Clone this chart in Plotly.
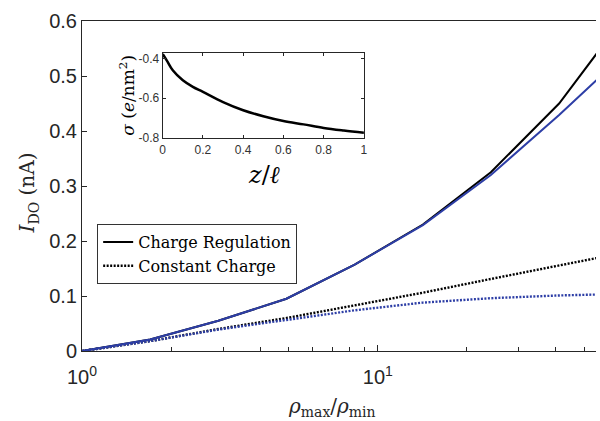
import numpy as np
import plotly.graph_objects as go

# ---- main panel data ----
rho_ratio = [1, 1.7, 2.89, 4.91, 8.35, 14.2, 24.1, 41.0, 69.8]
cr_full = [0, 0.021, 0.055, 0.095, 0.157, 0.230, 0.325, 0.450, 0.615]
cr_approx = [0, 0.021, 0.055, 0.095, 0.157, 0.229, 0.320, 0.429, 0.545]
cc_full = [0, 0.018, 0.040, 0.060, 0.083, 0.106, 0.131, 0.155, 0.180]
cc_approx = [0, 0.018, 0.039, 0.057, 0.074, 0.088, 0.096, 0.101, 0.104]

# ---- inset data ----
z_over_l = [0, 0.02, 0.05, 0.1, 0.15, 0.2, 0.3, 0.4, 0.5, 0.6, 0.7, 0.8, 0.9, 1.0]
sigma = [-0.378, -0.41, -0.46, -0.51, -0.543, -0.568, -0.619, -0.66, -0.69,
         -0.714, -0.731, -0.749, -0.762, -0.773]

y_ticks = [0, 0.1, 0.2, 0.3, 0.4, 0.5, 0.6]
y_ticktext = ["0", "0.1", "0.2", "0.3", "0.4", "0.5", "0.6"]
x_major = [1, 10]
x_major_text = ["10<sup>0</sup>", "10<sup>1</sup>"]
x_minor = [2, 3, 4, 5, 6, 7, 8, 9, 20, 30, 40, 50]
inset_xticks = [0, 0.2, 0.4, 0.6, 0.8, 1]
inset_xtext = ["0", "0.2", "0.4", "0.6", "0.8", "1"]
inset_yticks = [-0.8, -0.6, -0.4]
inset_ytext = ["-0.8", "-0.6", "-0.4"]

BLUE = "#2d3ea6"
AX = "#262626"
SERIF = "DejaVu Serif"
DOTS = "2px,1.5px"

fig = go.Figure()
fig.add_trace(go.Scatter(x=rho_ratio, y=cr_full, mode="lines", name="Charge Regulation",
                         line=dict(color="black", width=2.0)))
fig.add_trace(go.Scatter(x=rho_ratio, y=cc_full, mode="lines", name="Constant Charge",
                         line=dict(color="black", width=2.4, dash=DOTS)))
fig.add_trace(go.Scatter(x=rho_ratio, y=cr_approx, mode="lines", showlegend=False,
                         line=dict(color=BLUE, width=2.0)))
fig.add_trace(go.Scatter(x=rho_ratio, y=cc_approx, mode="lines", showlegend=False,
                         line=dict(color=BLUE, width=2.4, dash=DOTS)))
fig.add_trace(go.Scatter(x=z_over_l, y=sigma, mode="lines", showlegend=False,
                         xaxis="x2", yaxis="y2", line=dict(color="black", width=2.5, shape="spline")))

fig.update_layout(
    width=600, height=421,
    margin=dict(l=82, r=0, t=21, b=70),
    paper_bgcolor="white", plot_bgcolor="white",
    font=dict(family="Liberation Sans, Arial", color=AX),
    xaxis=dict(type="log", range=[0, 1.7375], showgrid=False, zeroline=False,
               showline=True, linecolor=AX, linewidth=1, mirror=True,
               ticks="inside", ticklen=6, tickcolor=AX, ticklabelstandoff=8,
               tickmode="array", tickvals=x_major, ticktext=x_major_text,
               tickfont=dict(size=20, family="Liberation Sans, Arial", color=AX),
               minor=dict(tickmode="array", tickvals=x_minor, ticks="inside",
                          ticklen=4, tickcolor=AX, showgrid=False)),
    yaxis=dict(range=[0, 0.6], showgrid=False, zeroline=False,
               showline=True, linecolor=AX, linewidth=1, mirror=False,
               ticks="inside", ticklen=5, tickcolor=AX,
               tickmode="array", tickvals=y_ticks, ticktext=y_ticktext,
               tickfont=dict(size=20, family="Liberation Sans, Arial", color=AX)),
    xaxis2=dict(domain=[0.157, 0.5485], anchor="y2", range=[0, 1],
                showgrid=False, zeroline=False, showline=True, linecolor=AX, linewidth=1,
                mirror="ticks", ticks="inside", ticklen=3, tickcolor=AX,
                tickmode="array", tickvals=inset_xticks, ticktext=inset_xtext,
                tickfont=dict(size=12, color="#333333")),
    yaxis2=dict(domain=[0.645, 0.902], anchor="x2", range=[-0.8, -0.375],
                showgrid=False, zeroline=False, showline=True, linecolor=AX, linewidth=1,
                mirror="ticks", ticks="inside", ticklen=3, tickcolor=AX,
                tickmode="array", tickvals=inset_yticks, ticktext=inset_ytext,
                tickfont=dict(size=12, color="#333333")),
    legend=dict(x=0.0295, y=0.3845, xanchor="left", yanchor="top",
                bordercolor="#333333", borderwidth=1, bgcolor="white",
                font=dict(family=SERIF, size=16, color="black"),
                tracegroupgap=0, itemwidth=30),
    showlegend=True,
)

annotations = [
    dict(text="<i>I</i><sub>DO</sub> (nA)", x=28, y=193, textangle=-90,
         font=dict(family=SERIF, size=20, color=AX)),
    dict(text="<i>ρ</i><sub>max</sub>/<i>ρ</i><sub>min</sub>", x=334, y=407,
         font=dict(family=SERIF, size=20, color=AX)),
    dict(text="<i>σ</i> (<i>e</i>/nm<sup>2</sup>)", x=127, y=95, textangle=-90,
         font=dict(family=SERIF, size=17, color="black")),
    dict(text="<i>z</i>/<i>ℓ</i>", x=265, y=175,
         font=dict(family=SERIF, size=24, color="black")),
]
for a in annotations:
    px, py = a.pop("x"), a.pop("y")
    fig.add_annotation(x=(px - 82) / 518, y=(351 - py) / 330, xref="paper", yref="paper",
                       showarrow=False, xanchor="center", yanchor="middle", **a)

fig.write_html("out.html", config={"displayModeBar": False},
               post_script="document.body.style.margin='0px';document.body.style.overflow='hidden';")
